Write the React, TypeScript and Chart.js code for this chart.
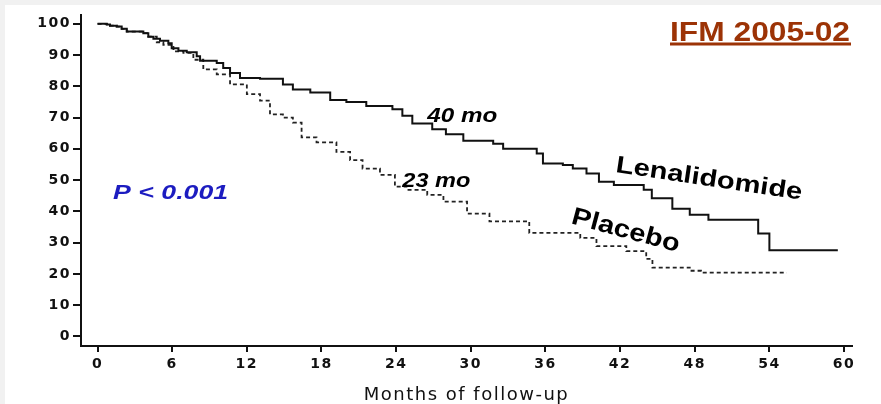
import React, { useEffect, useRef } from 'react';
import { Chart, registerables } from 'chart.js';

Chart.register(...registerables);

// ---- Data ----
const lenaMonths = [0, 0.74, 1.0, 1.54, 1.94, 2.35, 3.68, 4.08, 4.49, 5.02, 5.69, 5.96, 6.5, 7.17, 7.97, 8.24, 9.58, 10.1, 10.65, 11.45, 13.06, 14.9, 15.7, 17.1, 18.7, 20.0, 21.6, 23.7, 24.5, 25.3, 26.9, 28.0, 29.4, 31.8, 32.6, 35.3, 35.8, 37.4, 38.2, 39.3, 40.3, 41.5, 43.9, 44.55, 46.2, 47.6, 49.1, 53.1, 54.0, 59.5];
const lenaSurvival = [100, 99.8, 99.4, 99.1, 98.4, 97.5, 97.0, 95.9, 95.2, 94.6, 93.8, 92.2, 91.4, 90.9, 89.6, 88.2, 87.5, 85.9, 84.3, 82.7, 82.4, 80.6, 79.0, 78.0, 75.6, 75.0, 73.7, 72.7, 70.6, 68.1, 66.3, 64.7, 62.6, 61.6, 60.0, 58.5, 55.3, 54.8, 53.7, 52.1, 49.5, 48.4, 46.9, 44.2, 40.8, 38.9, 37.3, 32.9, 27.6, 27.6];

const placeboMonths = [0, 0.74, 1.0, 1.54, 1.94, 2.35, 3.68, 4.08, 4.76, 5.29, 6.1, 6.9, 7.7, 8.5, 9.58, 10.65, 12.0, 13.06, 13.86, 14.9, 15.7, 16.4, 17.6, 19.2, 20.3, 21.3, 22.7, 23.9, 24.9, 26.5, 27.8, 29.7, 31.5, 34.7, 38.8, 40.1, 42.5, 44.1, 44.6, 47.6, 48.5, 55.4];
const placeboSurvival = [100, 99.8, 99.4, 99.1, 98.4, 97.5, 97.0, 95.9, 94.1, 93.3, 91.2, 90.7, 88.5, 85.4, 83.8, 80.6, 77.5, 75.4, 71.0, 70.0, 68.4, 63.7, 62.1, 59.0, 56.4, 53.7, 51.7, 47.9, 46.9, 45.3, 43.1, 39.3, 36.8, 33.1, 31.5, 28.9, 27.3, 24.8, 22.0, 21.0, 20.4, 20.4];

const xTickValues = [0, 6, 12, 18, 24, 30, 36, 42, 48, 54, 60];
const yTickValues = [0, 10, 20, 30, 40, 50, 60, 70, 80, 90, 100];

const seriesLabels = ['Lenalidomide', 'Placebo'];
const medianLabels = ['40 mo', '23 mo'];
const pValueLabel = 'P < 0.001';
const studyTitle = 'IFM 2005-02';
const xAxisTitle = 'Months of follow-up';

function drawFitted(
  ctx: CanvasRenderingContext2D,
  text: string,
  x: number,
  y: number,
  font: string,
  width: number,
  angleDeg: number,
  color: string
) {
  ctx.save();
  (ctx as any).letterSpacing = '0px';
  ctx.font = font;
  const w = ctx.measureText(text).width || 1;
  ctx.translate(x, y);
  ctx.rotate((angleDeg * Math.PI) / 180);
  ctx.scale(width / w, 1);
  ctx.fillStyle = color;
  ctx.textAlign = 'left';
  ctx.textBaseline = 'alphabetic';
  ctx.fillText(text, 0, 0);
  ctx.restore();
}

const spacingPlugin = {
  id: 'spacing',
  beforeDraw(chart: any) {
    chart.ctx.letterSpacing = '1.5px';
  },
};

const annotationPlugin = {
  id: 'annotations',
  afterDraw(chart: any) {
    const ctx: CanvasRenderingContext2D = chart.ctx;
    const xs = chart.scales.x;
    const ys = chart.scales.y;
    (ctx as any).letterSpacing = '0px';
    const px = (m: number) => xs.getPixelForValue(m);
    const py = (v: number) => ys.getPixelForValue(v);

    drawFitted(ctx, medianLabels[0], px(26.5), py(68.5), 'italic bold 21px "Liberation Sans"', 70, 0, '#000');
    drawFitted(ctx, medianLabels[1], px(24.5), py(47.9), 'italic bold 20px "Liberation Sans"', 68, 0, '#000');
    drawFitted(ctx, pValueLabel, px(1.25), py(44.1), 'italic bold 21px "Liberation Sans"', 115, 0, '#1c1cc0');
    drawFitted(ctx, seriesLabels[0], px(41.6), py(52.6), 'bold 24px "Liberation Sans"', 188, 8.5, '#000');
    drawFitted(ctx, seriesLabels[1], px(38.0), py(36.2), 'bold 25px "Liberation Sans"', 111, 15, '#000');

    // study title, underlined
    const titleColor = '#9c3306';
    drawFitted(ctx, studyTitle, 665, 35.5, 'bold 27px "Liberation Sans"', 180, 0, titleColor);
    ctx.save();
    ctx.fillStyle = titleColor;
    ctx.fillRect(665, 37.5, 181, 3);
    ctx.restore();
  },
};

export default function App() {
  const canvasRef = useRef<HTMLCanvasElement | null>(null);

  useEffect(() => {
    const canvas = canvasRef.current;
    if (!canvas) return;
    const tickFont = { family: '"DejaVu Sans"', size: 14, weight: 'bold' as const };
    const chart = new Chart(canvas, {
      type: 'line',
      data: {
        datasets: [
          {
            label: seriesLabels[0],
            data: lenaMonths.map((m, i) => ({ x: m, y: lenaSurvival[i] })),
            borderColor: '#111',
            borderWidth: 2,
            stepped: true,
            pointRadius: 0,
            fill: false,
          },
          {
            label: seriesLabels[1],
            data: placeboMonths.map((m, i) => ({ x: m, y: placeboSurvival[i] })),
            borderColor: '#222',
            borderWidth: 1.8,
            borderDash: [4, 3],
            stepped: true,
            pointRadius: 0,
            fill: false,
          },
        ],
      },
      options: {
        responsive: false,
        animation: false,
        devicePixelRatio: 1,
        layout: { padding: { top: 7, right: 29, left: 0, bottom: 0 } },
        plugins: {
          legend: { display: false },
          tooltip: { enabled: false },
          title: { display: false },
        },
        scales: {
          x: {
            type: 'linear',
            min: -1.33,
            max: 60.64,
            afterBuildTicks: (s: any) => {
              s.ticks = xTickValues.map((v) => ({ value: v }));
            },
            afterFit: (s: any) => {
              s.height = 58;
            },
            grid: { drawOnChartArea: false, drawTicks: true, tickLength: 6, color: '#111', lineWidth: 2 },
            border: { display: true, color: '#111', width: 2 },
            ticks: {
              color: '#111',
              font: tickFont,
              padding: 4,
              autoSkip: false,
              maxRotation: 0,
              callback: (v: any) => String(v),
            },
            title: {
              display: true,
              text: xAxisTitle,
              color: '#111',
              font: { family: '"DejaVu Sans"', size: 18, lineHeight: 1.0 },
              padding: { top: 0, bottom: 0 },
            },
          },
          y: {
            type: 'linear',
            min: -3.07,
            max: 102.69,
            afterBuildTicks: (s: any) => {
              s.ticks = yTickValues.map((v) => ({ value: v }));
            },
            afterFit: (s: any) => {
              s.width = 76;
            },
            grid: { drawOnChartArea: false, drawTicks: true, tickLength: 8, color: '#111', lineWidth: 2 },
            border: { display: true, color: '#111', width: 2 },
            ticks: {
              color: '#111',
              font: tickFont,
              padding: 2,
              callback: (v: any) => String(v),
            },
          },
        },
      },
      plugins: [spacingPlugin, annotationPlugin],
    } as any);
    return () => chart.destroy();
  }, []);

  return (
    <div style={{ position: 'fixed', left: 0, top: 0, width: 881, height: 404, background: '#f1f1f1' }}>
      <div style={{ position: 'absolute', left: 5, top: 5, width: 876, height: 399, background: '#ffffff' }}>
        <canvas ref={canvasRef} width={876} height={399} style={{ display: 'block' }} />
      </div>
    </div>
  );
}
